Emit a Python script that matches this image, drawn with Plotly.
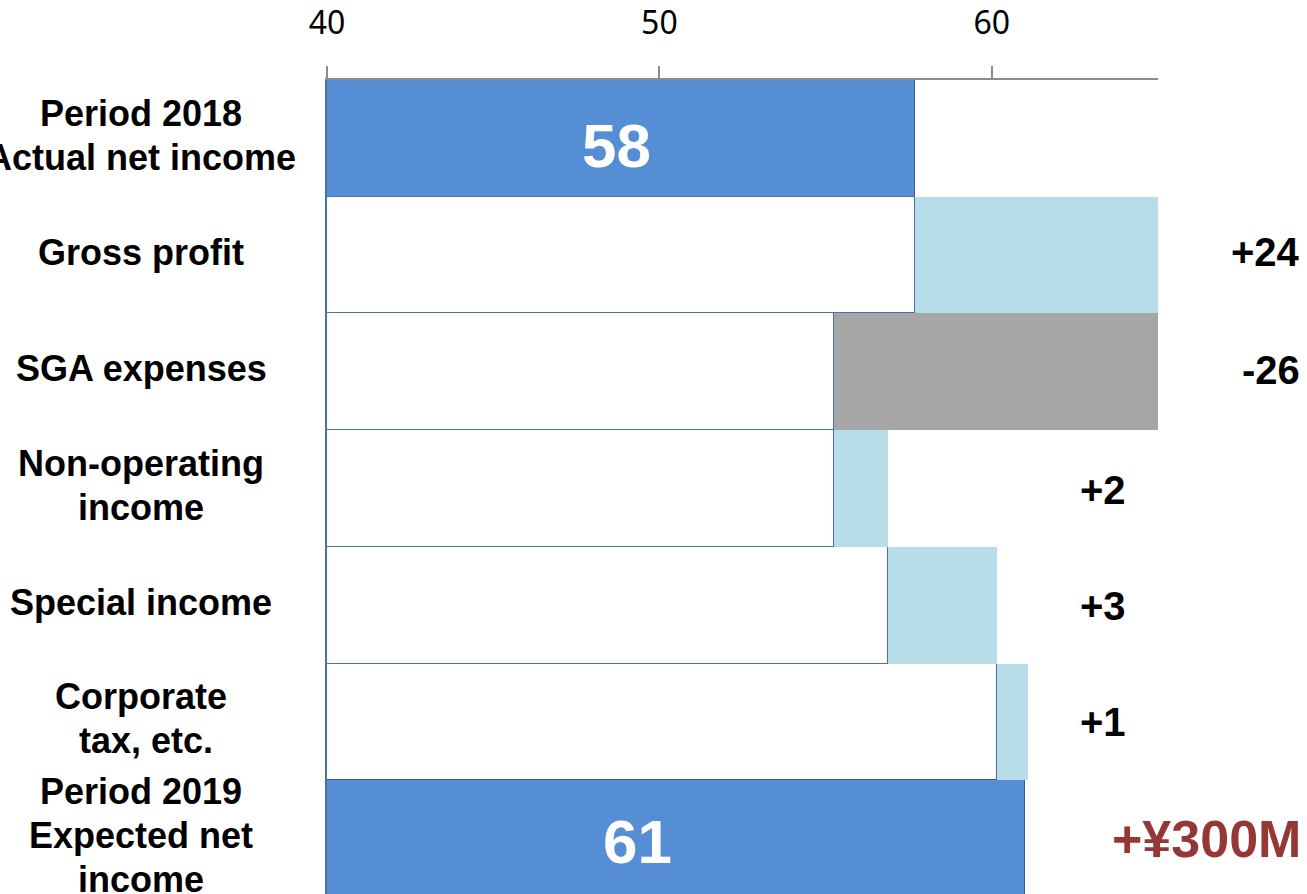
import plotly.graph_objects as go

# ---- data ----
categories = ["Period 2018<br>Actual net income", "Gross profit", "SGA expenses",
              "Non-operating<br>income", "Special income", "Corporate<br> tax, etc.",
              "Period 2019<br>Expected net<br>income"]
base_values = [57.7, 57.7, 55.25, 55.25, 56.87, 60.15, 61.0]   # white / total part
step_values = [0, 24.0, 26.45, 1.62, 3.28, 0.95, 0]            # change part
step_labels = ["", "+24", "-26", "+2", "+3", "+1", "+¥300M"]
total_labels = ["58", "", "", "", "", "", "61"]
total_label_x = [48.7, None, None, None, None, None, 49.35]
x_ticks = [40, 50, 60]

# label placement / style
total_label_shift = [-7, 0, 0, 0, 0, 0, -3]
step_label_x = [None, 1.1733, 1.1733, 0.9338, 0.9338, 0.9338, 1.1745]
step_label_anchor = [None, "right", "right", "center", "center", "center", "right"]
step_label_colors = [None, "black", "black", "black", "black", "black", "#953735"]
step_label_shift = [0, 3, 2, -1, -1, 0, 0]

is_total = [True, False, False, False, False, False, True]
base_fill = ["#558ED5" if t else "#FFFFFF" for t in is_total]
base_line = ["#3B5F8E" if t else "#4A72A6" for t in is_total]
step_fill = ["#B7DDE8", "#B7DDE8", "#A6A6A6", "#B7DDE8", "#B7DDE8", "#B7DDE8", "#B7DDE8"]

FONT = "Liberation Sans, Arial, sans-serif"
LINE_H = 44

fig = go.Figure()
fig.add_trace(go.Bar(
    y=categories, x=base_values, orientation="h",
    marker=dict(color=base_fill, line=dict(color=base_line, width=1.5)),
    hoverinfo="skip", showlegend=False,
))
fig.add_trace(go.Bar(
    y=categories, x=step_values, orientation="h",
    marker=dict(color=step_fill, line=dict(width=0)),
    hoverinfo="skip", showlegend=False,
))

annotations = []
for i, cat in enumerate(categories):
    lines = cat.split("<br>")
    n = len(lines)
    for j, line in enumerate(lines):
        offset = ((n - 1) / 2 - j) * LINE_H + 3
        annotations.append(dict(
            xref="paper", yref="y", x=-0.2238, y=cat, text=line,
            xanchor="center", yanchor="middle", align="center", showarrow=False,
            yshift=offset,
            font=dict(family=FONT, size=36, color="black", weight="bold"),
        ))
    if total_labels[i]:
        annotations.append(dict(
            xref="x", yref="y", x=total_label_x[i], y=cat, text=total_labels[i],
            xanchor="center", yanchor="middle", showarrow=False,
            yshift=total_label_shift[i],
            font=dict(family=FONT, size=62, color="white", weight="bold"),
        ))
    if step_labels[i]:
        annotations.append(dict(
            xref="paper", yref="y", x=step_label_x[i], y=cat, text=step_labels[i],
            xanchor=step_label_anchor[i], yanchor="middle", showarrow=False,
            yshift=step_label_shift[i],
            font=dict(family=FONT, size=52 if i == 6 else 40,
                      color=step_label_colors[i], weight="bold"),
        ))

fig.update_layout(
    width=1307, height=894,
    margin=dict(l=327, r=149, t=75, b=0),
    paper_bgcolor="white", plot_bgcolor="white",
    barmode="stack", bargap=0,
    annotations=annotations,
    xaxis=dict(
        side="top", range=[40, 65], tickvals=x_ticks,
        showgrid=False, zeroline=False,
        showline=True, linecolor="#8C8C8C", linewidth=2,
        ticks="outside", ticklen=12, tickwidth=2, tickcolor="#8C8C8C",
        ticklabelstandoff=19,
        tickfont=dict(family="Noto Sans, sans-serif", size=32, color="black"),
    ),
    yaxis=dict(
        categoryorder="array", categoryarray=categories,
        range=[6.474, -0.5], showticklabels=False, showgrid=False,
        zeroline=False, showline=True, linecolor="#4A72A6", linewidth=1.5,
        ticks="",
    ),
)

fig.write_html("out.html")
